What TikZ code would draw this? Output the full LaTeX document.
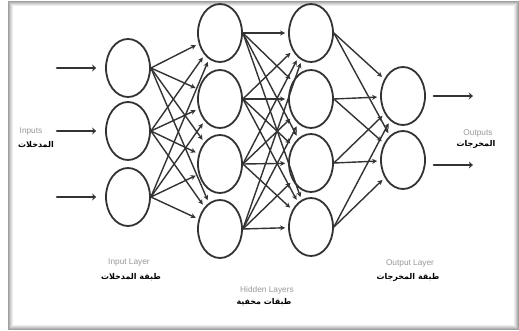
\documentclass[tikz,border=0pt]{standalone}
\usepackage{fontspec}
\setmainfont{Liberation Sans}
\newfontfamily\arabicfont[Script=Arabic]{DejaVu Sans}
\TeXXeTstate=1
\usetikzlibrary{shapes.geometric,arrows.meta}
\definecolor{ink}{HTML}{333333}
\begin{document}
\begin{tikzpicture}[x=1pt,y=-1pt,
  neuron/.style={ellipse,draw=ink,line width=1.8pt,minimum width=44pt,minimum height=58pt,inner sep=0pt},
  link/.style={draw=ink,line width=1.4pt,-{Stealth[length=5pt,width=5pt]},shorten >=3pt},
  ioarrow/.style={draw=ink,line width=2.8pt,line cap=round,-{Stealth[length=4pt,width=7pt]}},
  entxt/.style={text=gray!80,font=\fontsize{8.3}{9}\selectfont,inner sep=0pt},
  artxt/.style={font=\arabicfont\bfseries\fontsize{8}{9}\selectfont,inner sep=0pt}]
\useasboundingbox (0,0) rectangle (519,331);
% bevelled frame
\foreach \k/\c in {0/75,1/58,2/42,3/27,4/14}
  \fill[gray!\c] (8+\k,1+\k) rectangle (519-\k,330-\k);
\fill[white] (13,6) rectangle (514,325);

% neurons
\foreach \n/\y in {1/68,2/131,3/197} \node[neuron] (i\n) at (128,\y) {};
\foreach \n/\y in {1/33,2/99,3/164,4/229} \node[neuron] (a\n) at (220,\y) {};
\foreach \n/\y in {1/33,2/99,3/163,4/227} \node[neuron] (b\n) at (311,\y) {};
\foreach \n/\y in {1/96,2/160} \node[neuron] (o\n) at (403,\y) {};

% fully connected links
\foreach \s in {1,2,3} \foreach \t in {1,...,4} \draw[link] (i\s.east) -- (a\t);
\foreach \s in {1,...,4} \foreach \t in {1,...,4} \draw[link] (a\s.east) -- (b\t);
\foreach \s in {1,...,4} \foreach \t in {1,2} \draw[link] (b\s.east) -- (o\t);

% inputs and outputs
\foreach \n in {1,2,3} {
  \coordinate (x\n) at ([xshift=-48pt]i\n.west);
  \draw[ioarrow,shorten >=9pt] (x\n) -- (i\n.west);
}
\foreach \n/\d in {1/0,2/-5} {
  \coordinate (y\n) at ([xshift=47pt,yshift=\d pt]o\n.east);
  \draw[ioarrow,shorten <=8pt] ([yshift=\d pt]o\n.east) -- (y\n);
}

% labels
\node[entxt] (lin) at (31,132) {Inputs};
\node[artxt] (lina) at (36,145) {\beginR المدخلات\endR};
\node[entxt] (lout) at (478,133) {Outputs};
\node[artxt] (louta) at (476,144) {\beginR المخرجات\endR};
\node[entxt] (lil) at (129,263) {Input Layer};
\node[artxt] (lila) at (131,277) {\beginR طبقة المدخلات\endR};
\node[entxt] (lhl) at (267,290) {Hidden Layers};
\node[artxt] (lhla) at (264,302) {\beginR طبقات مخفية\endR};
\node[entxt] (lol) at (410,263) {Output Layer};
\node[artxt] (lola) at (408,277) {\beginR طبقة المخرجات\endR};
\end{tikzpicture}
\end{document}
